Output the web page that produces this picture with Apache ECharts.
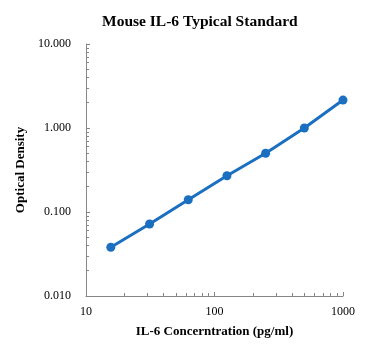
<!DOCTYPE html>
<html><head><meta charset="utf-8">
<script src="https://cdn.jsdelivr.net/npm/echarts@6/dist/echarts.min.js"></script>
<style>html,body{margin:0;padding:0;background:#fff}#c{width:371px;height:351px}</style>
</head><body><div id="c"></div>
<script>
var concentrations = [15.6, 31.25, 62.5, 125, 250, 500, 1000];
var odValues = [0.038, 0.072, 0.140, 0.270, 0.500, 1.000, 2.150];
var yTickLabels = {0.01: '0.010', 0.1: '0.100', 1: '1.000', 10: '10.000'};
var xTickLabels = {10: '10', 100: '100', 1000: '1000'};

var chart = echarts.init(document.getElementById('c'));
var serif = '"Liberation Serif", "Times New Roman", serif';
var data = concentrations.map(function (x, i) { return [x, odValues[i]]; });
function pick(map) {
  return function (v) { var k = Math.round(Math.log10(v)); return map[Math.pow(10, k)] || String(v); };
}
chart.setOption({
  animation: false,
  title: {
    text: 'Mouse IL-6 Typical Standard',
    left: 97, top: 9,
    textStyle: {fontFamily: serif, fontWeight: 'bold', fontSize: 15.5, color: '#000'}
  },
  grid: {left: 86, right: 28, top: 44, bottom: 55},
  xAxis: {
    type: 'log', logBase: 10, min: 10, max: 1000,
    name: 'IL-6 Concerntration (pg/ml)', nameLocation: 'middle', nameGap: 29,
    nameTextStyle: {fontFamily: serif, fontWeight: 'bold', fontSize: 13, color: '#000'},
    axisLine: {lineStyle: {color: '#868686', width: 1}},
    axisTick: {show: true, inside: true, length: 4, lineStyle: {color: '#868686'}},
    minorTick: {show: true, splitNumber: 9, length: 3, lineStyle: {color: '#868686'}},
    axisLabel: {fontFamily: serif, fontSize: 12, color: '#000', margin: 10, formatter: pick(xTickLabels)},
    splitLine: {show: false}
  },
  yAxis: {
    type: 'log', logBase: 10, min: 0.01, max: 10,
    name: 'Optical Density', nameLocation: 'middle', nameGap: 56,
    nameTextStyle: {fontFamily: serif, fontWeight: 'bold', fontSize: 13, color: '#000'},
    axisLine: {show: true, lineStyle: {color: '#868686', width: 1}},
    axisTick: {show: true, inside: true, length: 4, lineStyle: {color: '#868686'}},
    minorTick: {show: true, splitNumber: 9, length: 3, lineStyle: {color: '#868686'}},
    axisLabel: {fontFamily: serif, fontSize: 12, color: '#000', margin: 15, formatter: pick(yTickLabels)},
    splitLine: {show: false}
  },
  series: [{
    type: 'line', data: data,
    symbol: 'circle', symbolSize: 9,
    itemStyle: {color: '#1a6fc0'},
    lineStyle: {color: '#1a6fc0', width: 3}
  }]
});
</script></body></html>
